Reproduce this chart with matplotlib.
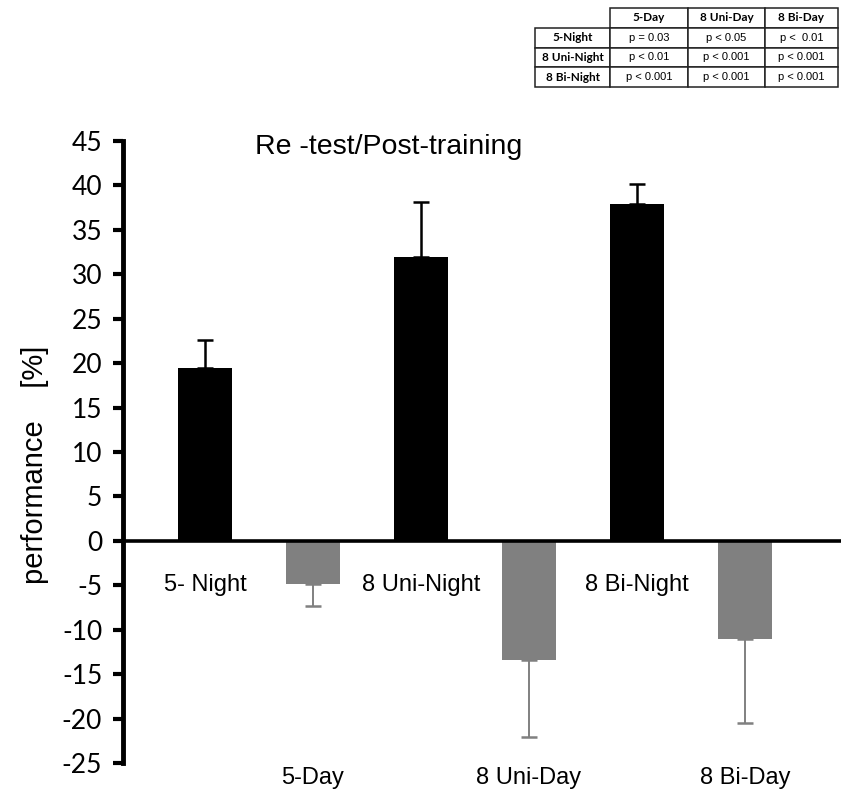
import numpy as np
import matplotlib.pyplot as plt

# data
groups = ["5-Night", "5-Day", "8 Uni-Night", "8 Uni-Day", "8 Bi-Night", "8 Bi-Day"]
values = [19.5, -4.8, 32.0, -13.4, 37.9, -11.1]
errors = [3.1, 2.5, 6.1, 8.7, 2.3, 9.4]
night_labels = ["5- Night", "8 Uni-Night", "8 Bi-Night"]
day_labels = ["5-Day", "8 Uni-Day", "8 Bi-Day"]
yticks = [45, 40, 35, 30, 25, 20, 15, 10, 5, 0, -5, -10, -15, -20, -25]

tbl_cols = ["", "5-Day", "8 Uni-Day", "8 Bi-Day"]
tbl_rows = ["5-Night", "8 Uni-Night", "8 Bi-Night"]
tbl_vals = [["p = 0.03", "p < 0.05", "p <  0.01"],
            ["p < 0.01", "p < 0.001", "p < 0.001"],
            ["p < 0.001", "p < 0.001", "p < 0.001"]]

narrow = ["Liberation Sans Narrow", "Liberation Sans", "DejaVu Sans"]
tick_font = ["Lato", "DejaVu Sans"]

night_c = "black"
day_c = "#808080"

fig = plt.figure(figsize=(8.42, 7.95), dpi=100)
ax = fig.add_axes([123/842, 1-763/795, (841-123)/842, (763-141)/795])

x = np.arange(len(groups))
colors = [night_c if v > 0 else day_c for v in values]
for xi, v, e, c in zip(x, values, errors, colors):
    yerr = [[0], [e]] if v > 0 else [[e], [0]]
    ax.bar(xi, v, width=0.5, color=c, zorder=2)
    ax.errorbar(xi, v, yerr=yerr, fmt="none", ecolor=c,
                elinewidth=1.8 if v > 0 else 1.4, capsize=6, capthick=1.8, zorder=1)

ax.axhline(0, color="black", lw=2.6, zorder=3)
ax.set_xlim(-0.76, 5.89)
ax.set_ylim(-25, 45)
ax.set_yticks(yticks)
ax.set_yticklabels([str(t) for t in yticks], family=tick_font, fontsize=19)
ax.set_xticks([])
for s in ["top", "right", "bottom"]:
    ax.spines[s].set_visible(False)
ax.spines["left"].set_linewidth(3.5)
ax.tick_params(axis="y", direction="out", length=7, width=3, pad=8)

# group labels
for i, lab in zip(x[0::2], night_labels):
    ax.text(i, -5, lab, ha="center", va="center", fontsize=17, family=narrow)
for i, lab in zip(x[1::2], day_labels):
    ax.text(i, -26.7, lab, ha="center", va="center", fontsize=17,
            family=narrow, clip_on=False)

ax.text(0.37, 0.99, "Re -test/Post-training", transform=ax.transAxes,
        ha="center", va="center", fontsize=20.5, family=["Liberation Sans"])
fig.text(35/842, 1-465/795, "performance    [%]", rotation=90,
         ha="center", va="center", fontsize=21, family=narrow)

# significance table top right
tax = fig.add_axes([535/842, 1-87/795, (838-535)/842, (87-8)/795])
tax.axis("off")
cell_text = [[r] + vals for r, vals in zip(tbl_rows, tbl_vals)]
table = tax.table(cellText=cell_text, colLabels=tbl_cols, cellLoc="center",
                  colWidths=[75, 78, 77, 73], bbox=[0, 0, 1, 1])
table.auto_set_font_size(False)
for (r, c), cell in table.get_celld().items():
    cell.set_linewidth(1.1)
    cell.set_edgecolor("#222222")
    txt = cell.get_text()
    if r == 0 or c == 0:
        txt.set_fontweight("bold")
        txt.set_family(tick_font)
        txt.set_fontsize(8.5)
    else:
        txt.set_family(["Liberation Sans"])
        txt.set_fontsize(8)
    if r == 0 and c == 0:
        cell.visible_edges = ""

fig.savefig("out.png", dpi=100)
